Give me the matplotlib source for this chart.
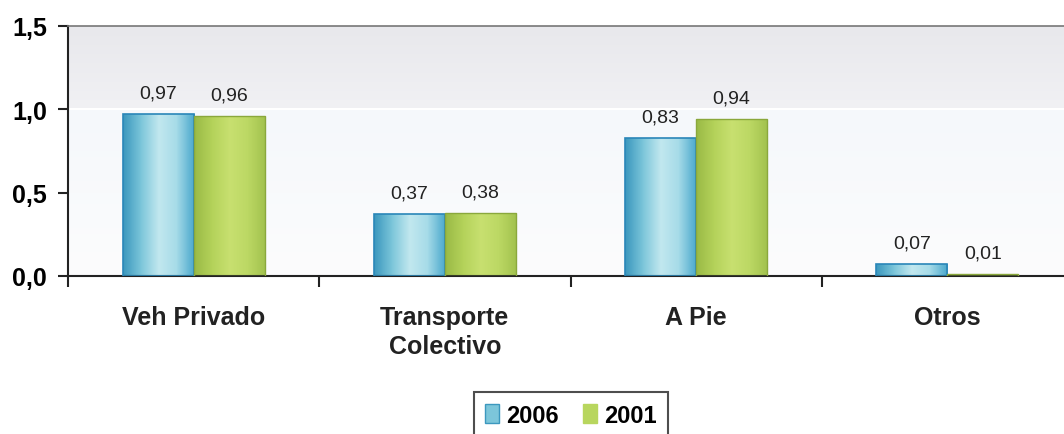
import numpy as np
import matplotlib
matplotlib.use("Agg")
import matplotlib.pyplot as plt
from matplotlib.colors import LinearSegmentedColormap
from matplotlib.patches import Patch
from matplotlib.ticker import FuncFormatter, FixedLocator

plt.rcParams['font.family'] = ['Liberation Sans', 'DejaVu Sans']

categories = ['Veh Privado', 'Transporte\nColectivo', 'A Pie', 'Otros']
years = ['2006', '2001']
vals_2006 = [0.97, 0.37, 0.83, 0.07]
vals_2001 = [0.96, 0.38, 0.94, 0.01]

# side-to-side shading for the bars (dark edge -> light middle -> edge)
blue_cmap = LinearSegmentedColormap.from_list(
    'blue', ['#3c98be', '#7cc6da', '#c2e8ef', '#a6dbe8', '#4aa8cc'])
green_cmap = LinearSegmentedColormap.from_list(
    'green', ['#9aba46', '#b4d25a', '#c8e070', '#bcd864', '#a2c24e'])

fig = plt.figure(figsize=(10.64, 4.35), dpi=100)
ax = fig.add_axes([68 / 1064, 158 / 435, 1005 / 1064, 250 / 435])

x = np.arange(len(categories))
w = 0.283
ax.set_xlim(-0.5, 3.5)
ax.set_ylim(0, 1.5)

# plot area background: grey band above 1.0, near-white below
ys = np.linspace(0, 1.5, 300)
bg = np.zeros((300, 1, 3))
top = np.array([0xe8, 0xe8, 0xec]) / 255
mid = np.array([0xf1, 0xf1, 0xf4]) / 255
low_top = np.array([0xf5, 0xf8, 0xfb]) / 255
low_bot = np.array([0xfc, 0xfc, 0xfd]) / 255
for i, yv in enumerate(ys):
    if yv >= 1.0:
        t = (yv - 1.0) / 0.5
        bg[i, 0] = mid * (1 - t) + top * t
    else:
        t = yv / 1.0
        bg[i, 0] = low_bot * (1 - t) + low_top * t
ax.imshow(bg, extent=(-0.5, 3.5, 0, 1.5), origin='lower', aspect='auto', zorder=0)
ax.axhline(1.0, color='white', lw=1.5, zorder=1)

grad = np.linspace(0, 1, 64).reshape(1, -1)
bars_a = ax.bar(x - w / 2, vals_2006, w, color='#8dd0e0', edgecolor='#2a86b8',
                linewidth=1.2, zorder=2)
bars_b = ax.bar(x + w / 2, vals_2001, w, color='#b8d65e', edgecolor='#8aa83c',
                linewidth=1.0, zorder=2)
for bars, cmap in ((bars_a, blue_cmap), (bars_b, green_cmap)):
    for b in bars:
        bx, bw, bh = b.get_x(), b.get_width(), b.get_height()
        im = ax.imshow(grad, cmap=cmap, extent=(bx, bx + bw, 0, bh),
                       aspect='auto', zorder=2.5)
        im.set_clip_path(b)
        b.set_facecolor('none')
        b.set_zorder(3)

for bars, vals in ((bars_a, vals_2006), (bars_b, vals_2001)):
    for b, v in zip(bars, vals):
        ax.annotate(f'{v:.2f}'.replace('.', ','),
                    (b.get_x() + b.get_width() / 2, v),
                    xytext=(0, 9), textcoords='offset points',
                    ha='center', va='bottom', fontsize=14, color='#222222')

# axes
for s in ('left', 'bottom'):
    ax.spines[s].set_linewidth(1.5)
    ax.spines[s].set_color('#222222')
ax.spines['top'].set_color('#777777')
ax.spines['top'].set_linewidth(1.2)
ax.spines['right'].set_visible(False)

ax.yaxis.set_major_locator(FixedLocator([0, 0.5, 1.0, 1.5]))
ax.yaxis.set_major_formatter(FuncFormatter(lambda v, p: f'{v:.1f}'.replace('.', ',')))
ax.tick_params(axis='y', direction='out', length=7, width=1.5, pad=8,
               labelsize=18, color='#222222')
for lab in ax.get_yticklabels():
    lab.set_fontweight('bold')

ax.set_xticks(x)
ax.set_xticklabels(categories, fontsize=18, fontweight='bold', color='#222222',
                   linespacing=1.25)
ax.tick_params(axis='x', which='major', length=0, pad=21)
ax.set_xticks(np.arange(-0.5, 3.0, 1.0), minor=True)
ax.tick_params(axis='x', which='minor', direction='out', length=8, width=1.5,
               color='#222222')

handles = [Patch(facecolor='#7cc6da', edgecolor='#3c98be'),
           Patch(facecolor='#b8d65e', edgecolor='#b8d65e')]
leg = fig.legend(handles, years, loc='upper center', bbox_to_anchor=(571 / 1064, 42 / 435),
                 borderaxespad=0, ncol=2, frameon=True, fancybox=False,
                 prop={'weight': 'bold', 'size': 17},
                 handlelength=0.6, handleheight=0.9, handletextpad=0.3,
                 columnspacing=1.0, borderpad=0.5)
leg.get_frame().set_edgecolor('#222222')
leg.get_frame().set_linewidth(1.5)

fig.savefig('out.png', dpi=100, facecolor='white')
